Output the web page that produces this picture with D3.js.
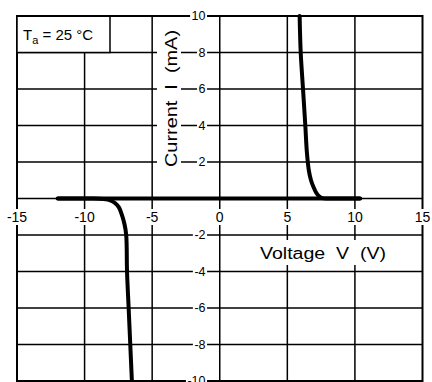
<!DOCTYPE html>
<html><head><meta charset="utf-8">
<script src="https://cdn.jsdelivr.net/npm/d3@7"></script>
<style>html,body{margin:0;padding:0;background:#fff;}svg{display:block;}</style>
</head><body>
<svg id="c" width="432" height="382"></svg>
<script>
// ---- data ----
const xTicks = [-15, -10, -5, 0, 5, 10, 15];
const yTicks = [-10, -8, -6, -4, -2, 2, 4, 6, 8, 10];
const xTickLabels = ["-15", "-10", "-5", "0", "5", "10", "15"];
const yTickLabels = ["-10", "-8", "-6", "-4", "-2", "2", "4", "6", "8", "10"];
const baselineV = [-12, 10.4];
const baselineI = [0, 0];
const forwardV = [10.4, 8.0, 7.6, 7.35, 7.15, 6.95, 6.75, 6.6, 6.45, 6.33, 6.16, 5.99, 5.91];
const forwardI = [0, 0, 0.02, 0.12, 0.3, 0.6, 1.0, 1.5, 2.5, 4, 6, 8, 10];
const reverseV = [-12, -9.5, -8.6, -8.1, -7.73, -7.45, -7.24, -7.05, -6.92, -6.86, -6.74, -6.62, -6.5];
const reverseI = [0, 0, -0.03, -0.1, -0.26, -0.5, -0.9, -1.4, -2, -4, -6, -8, -10];
const xTitle = "Voltage  V  (V)";
const yTitle = "Current  I  (mA)";
const tempLabel = ["T", "a", " = 25 °C"];

const svg = d3.select("#c");
const FONT = "'Liberation Sans', Arial, Helvetica, sans-serif";
const x = d3.scaleLinear().domain([-15, 15]).range([17, 422.5]);
const y = d3.scaleLinear().domain([-10, 10]).range([381, 16]);

// grid
const g = svg.append("g");
[-10, -5, 5, 10].forEach(v => g.append("line")
  .attr("x1", x(v)).attr("x2", x(v)).attr("y1", y(10)).attr("y2", y(-10))
  .attr("stroke", "#000").attr("stroke-width", 1.5));
[-8, -6, -4, -2, 2, 4, 6, 8].forEach(v => g.append("line")
  .attr("x1", x(-15)).attr("x2", x(15)).attr("y1", y(v)).attr("y2", y(v))
  .attr("stroke", "#000").attr("stroke-width", 1.5));
// axes lines
g.append("line").attr("x1", x(0)).attr("x2", x(0)).attr("y1", y(10)).attr("y2", y(-10))
  .attr("stroke", "#000").attr("stroke-width", 1.5);
g.append("line").attr("x1", x(-15)).attr("x2", x(15)).attr("y1", y(0)).attr("y2", y(0))
  .attr("stroke", "#000").attr("stroke-width", 1.5);
// border
g.append("rect").attr("x", x(-15)).attr("y", y(10)).attr("width", x(15) - x(-15)).attr("height", y(-10) - y(10))
  .attr("fill", "none").attr("stroke", "#000").attr("stroke-width", 2);

function bgText(sel, padX, padY) {
  sel.each(function () {
    const b = this.getBBox();
    d3.select(this.parentNode).insert("rect", () => this)
      .attr("x", b.x - padX).attr("y", b.y - padY)
      .attr("width", b.width + 2 * padX).attr("height", b.height + 2 * padY)
      .attr("fill", "#fff");
  });
}

// x tick labels
const xl = svg.append("g");
xTicks.forEach((v, i) => {
  const t = xl.append("text").attr("x", x(v)).attr("y", 222)
    .attr("text-anchor", "middle").attr("font-family", FONT).attr("font-size", 14)
    .text(xTickLabels[i]);
  bgText(t, 0.5, 0);
});
// y tick labels
const yl = svg.append("g");
yTicks.forEach((v, i) => {
  const t = yl.append("text").attr("x", 205.5).attr("y", y(v)).attr("dy", "0.35em")
    .attr("text-anchor", "end").attr("font-family", FONT).attr("font-size", 12.5)
    .text(yTickLabels[i]);
  bgText(t, 1.5, -1);
});

// y title
const yt = svg.append("g");
yt.append("rect").attr("x", 157).attr("y", 27).attr("width", 24).attr("height", 143).attr("fill", "#fff");
yt.append("text").attr("transform", `translate(177,${98.5}) rotate(-90)`)
  .attr("text-anchor", "middle").attr("font-family", FONT).attr("font-size", 16)
  .style("white-space", "pre")
  .attr("textLength", 137).attr("lengthAdjust", "spacingAndGlyphs")
  .text(yTitle);

// x title
const xt = svg.append("g");
xt.append("rect").attr("x", 257).attr("y", 240).attr("width", 133).attr("height", 25).attr("fill", "#fff");
xt.append("text").attr("x", 323).attr("y", 258.5)
  .attr("text-anchor", "middle").attr("font-family", FONT).attr("font-size", 16)
  .style("white-space", "pre")
  .attr("textLength", 126).attr("lengthAdjust", "spacingAndGlyphs")
  .text(xTitle);

// temp legend box
const lg = svg.append("g");
lg.append("rect").attr("x", x(-15)).attr("y", y(10)).attr("width", 110 - x(-15)).attr("height", y(8) - y(10))
  .attr("fill", "#fff").attr("stroke", "#000").attr("stroke-width", 1.5);
const lt = lg.append("text").attr("x", 23).attr("y", 40).attr("font-family", FONT).attr("font-size", 15)
  .style("white-space", "pre");
lt.append("tspan").text(tempLabel[0]);
lt.append("tspan").attr("font-size", 11).attr("dy", 4).text(tempLabel[1]);
lt.append("tspan").attr("dy", -4).text(tempLabel[2]);
// redraw top border over legend box
svg.append("line").attr("x1", x(-15)).attr("x2", 190).attr("y1", y(10)).attr("y2", y(10))
  .attr("stroke", "#000").attr("stroke-width", 2);

// curves
const line = d3.line().x(d => x(d[0])).y(d => y(d[1]));
const smooth = d3.line().x(d => x(d[0])).y(d => y(d[1])).curve(d3.curveCatmullRom.alpha(0.5));
const cg = svg.append("g").attr("fill", "none").attr("stroke", "#000").attr("stroke-width", 4)
  .attr("stroke-linejoin", "round").attr("stroke-linecap", "round");
cg.append("path").attr("d", line(baselineV.map((v, i) => [v, baselineI[i]]))).attr("stroke-linecap", "butt");
cg.append("path").attr("d", smooth(forwardV.map((v, i) => [v, forwardI[i]])));
cg.append("path").attr("d", smooth(reverseV.map((v, i) => [v, reverseI[i]])));
</script>
</body></html>
